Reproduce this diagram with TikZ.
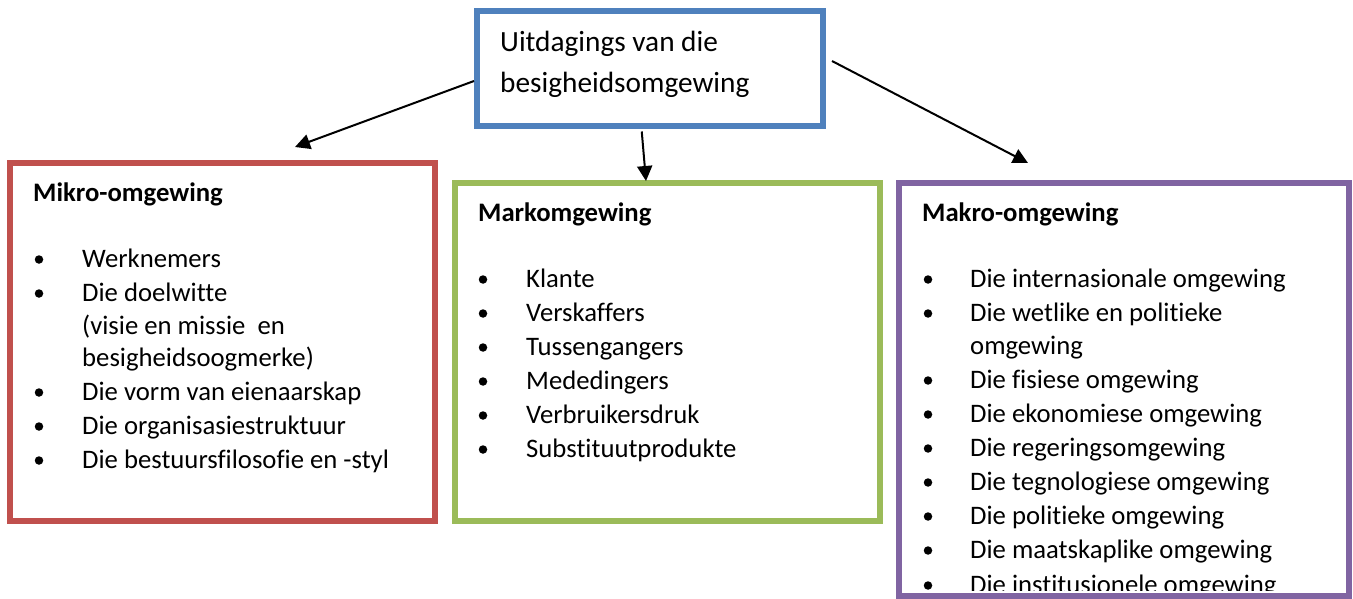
\documentclass[tikz,border=0pt]{standalone}
\usepackage{fontspec}
\setmainfont{Carlito}[Ligatures=CommonOff]
\usetikzlibrary{arrows.meta}
\definecolor{boxblue}{HTML}{4F81BD}
\definecolor{boxred}{HTML}{C0504D}
\definecolor{boxgreen}{HTML}{9BBB59}
\definecolor{boxpurple}{HTML}{8064A2}
\tikzset{
  frame/.style={draw, line width=6pt, inner sep=0pt, fill=white},
  body/.style={anchor=base west, inner sep=0pt, font=\fontsize{26.7}{32}\selectfont},
  head/.style={body, font=\fontsize{26.7}{32}\selectfont\bfseries},
  toptext/.style={anchor=base west, inner sep=0pt, font=\fontsize{29.3}{36}\selectfont},
  dot/.style={circle, fill=black, inner sep=0pt, minimum size=8.5pt},
  link/.style={line width=2pt, -{Triangle[length=15pt,width=15pt]}}
}
\begin{document}
\begin{tikzpicture}[x=1pt, y=-1pt]
\useasboundingbox (0,0) rectangle (1353,599);

% frames
\node[frame, draw=boxblue, minimum width=346.5pt, minimum height=115pt] (top) at (649.75,69) {};
\node[frame, draw=boxred, minimum width=424.5pt, minimum height=357.5pt] (mikro) at (222.25,342.25) {};
\node[frame, draw=boxgreen, minimum width=425pt, minimum height=337.5pt] (mark) at (667.5,352.25) {};
\node[frame, draw=boxpurple, minimum width=450pt, minimum height=412.5pt] (makro) at (1123.5,389.75) {};

% heading box text
\node[toptext] (t1) at (500,52) {Uitdagings van die};
\node[toptext] (t2) at (500,93) {besigheidsomgewing};

% Mikro-omgewing
\node[head] (mh) at (33,202) {Mikro-omgewing};
\foreach \y/\txt/\b in {267/Werknemers/1, 301/Die doelwitte/1,
    334/{(visie en missie\ \ en}/0, 366/besigheidsoogmerke)/0,
    400/Die vorm van eienaarskap/1, 434/Die organisasiestruktuur/1,
    468/Die bestuursfilosofie en -styl/1}{
  \node[body] at (82,\y) {\txt};
  \ifnum\b=1 \node[dot] at (39,\y-7.5) {}; \fi
}

% Markomgewing
\node[head] (kh) at (478,222) {Markomgewing};
\foreach \y/\txt in {287/Klante, 321/Verskaffers, 355/Tussengangers,
    389/Mededingers, 423/Verbruikersdruk, 457/Substituutprodukte}{
  \node[body] at (526,\y) {\txt};
  \node[dot] at (483,\y-7.5) {};
}

% Makro-omgewing
\node[head] (rh) at (922,222) {Makro-omgewing};
\begin{scope}
\clip (902,187) rectangle (1345,590);
\foreach \y/\txt/\b in {287/Die internasionale omgewing/1,
    321/Die wetlike en politieke/1, 354/omgewing/0,
    388/Die fisiese omgewing/1, 422/Die ekonomiese omgewing/1,
    456/Die regeringsomgewing/1, 490/Die tegnologiese omgewing/1,
    524/Die politieke omgewing/1, 558/Die maatskaplike omgewing/1,
    593/Die institusionele omgewing/1}{
  \node[body] at (970,\y) {\txt};
  \ifnum\b=1 \node[dot] at (928,\y-7.5) {}; \fi
}
\end{scope}

% connectors
\coordinate (s1) at ([xshift=0.5pt,yshift=-12pt]top.west);
\coordinate (e1) at (295,147);
\coordinate (s2) at ([xshift=-8pt,yshift=-2pt]top.south);
\coordinate (e2) at ([xshift=-21.5pt,yshift=-0.5pt]mark.north);
\coordinate (s3) at ([xshift=6pt,yshift=8pt]top.east);
\coordinate (e3) at (1028,163);
\draw[link] (s1) -- (e1);
\draw[link] (s2) -- (e2);
\draw[link] (s3) -- (e3);
\end{tikzpicture}
\end{document}
